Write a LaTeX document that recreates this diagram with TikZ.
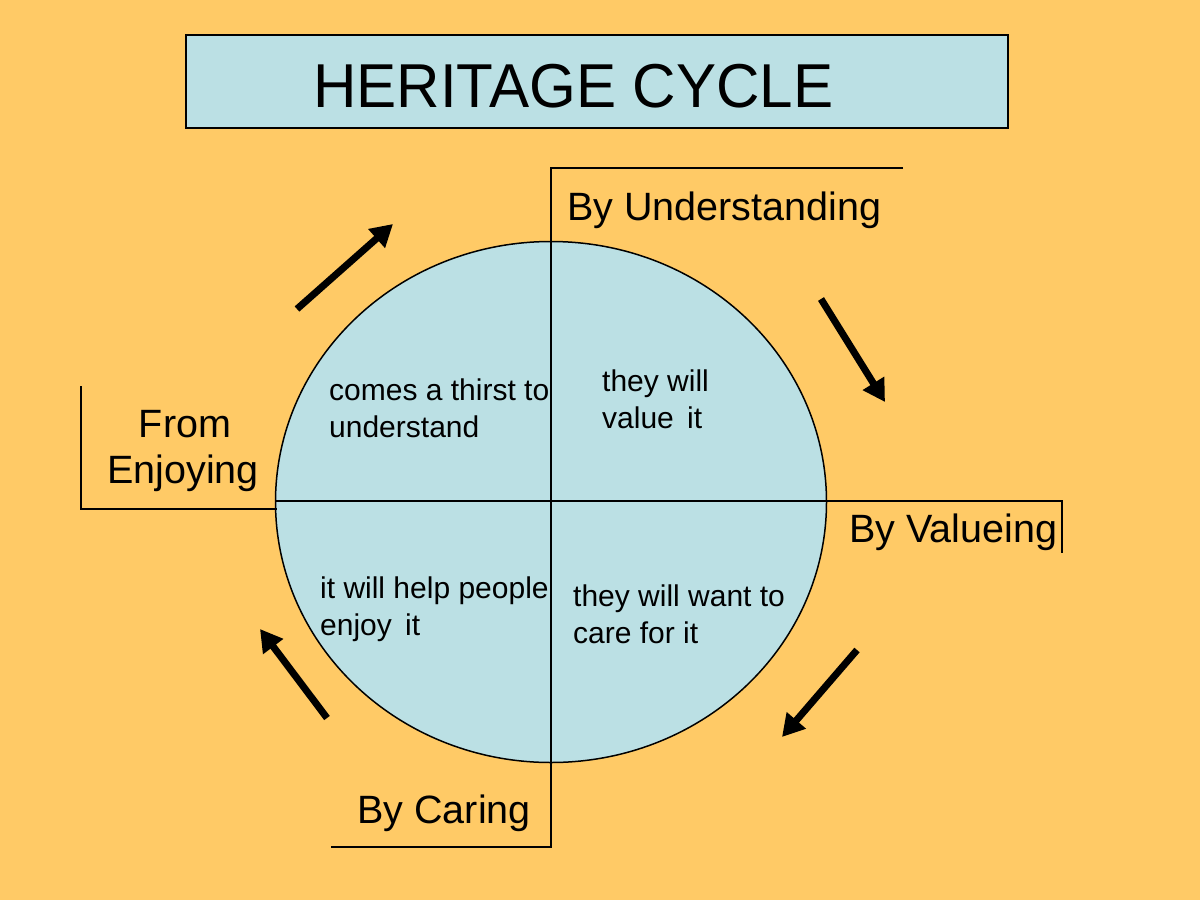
\documentclass[tikz,border=0pt]{standalone}
\usepackage{fontspec}
\setmainfont{Liberation Sans}
\usetikzlibrary{arrows.meta,shapes.geometric}
\definecolor{bgorange}{RGB}{255,202,102}
\definecolor{paleblue}{RGB}{187,224,228}
\tikzset{
  bracket/.style={draw=black, line width=2pt},
  bigarrow/.style={draw=black, line width=7pt, -{Triangle[length=22pt,width=24pt]}},
  lbl/.style={font=\fontsize{39.5}{46}\selectfont, inner sep=0pt, align=center},
  inner/.style={font=\fontsize{30}{36.5}\selectfont, inner sep=0pt, align=left},
}
\begin{document}
\begin{tikzpicture}[x=1pt,y=-1pt]
\fill[bgorange] (0,0) rectangle (1200,900);
\useasboundingbox (0,0) rectangle (1200,900);
% title
\node[draw=black, line width=2pt, fill=paleblue, minimum width=822pt, minimum height=93pt, inner sep=0pt] (title) at (597,81.5) {};
\node[font=\fontsize{62}{62}\selectfont, inner sep=0pt, anchor=base west] (titletext) at (313,107) {\scalebox{0.97}[1]{HERITAGE CYCLE}};
% circle
\node[draw=black, line width=1.5pt, fill=paleblue, ellipse, minimum width=551pt, minimum height=521pt, inner sep=0pt] (circ) at (551,502) {};
% coordinates
\coordinate (topR) at (903,168);
\coordinate (topL) at (551,168);
\coordinate (botL) at (331,847);
\coordinate (botR) at (551,847);
\coordinate (rightA) at (276,501);
\coordinate (rightB) at (1062,501);
\coordinate (rightC) at (1062,553);
\coordinate (leftA) at (81,386);
\coordinate (leftB) at (81,509);
\coordinate (leftC) at (277,509);
\draw[bracket] (topR) -- (topL) -- (botR) -- (botL);
\draw[bracket] (rightA) -- (rightB) -- (rightC);
\draw[bracket] (leftA) -- (leftB) -- (leftC);
% outer labels
\node[lbl, anchor=base west] (under) at (567,220) {By Understanding};
\node[lbl, anchor=base] (from) at (185,437) {From};
\node[lbl, anchor=base] (enjoy) at (183,483) {Enjoying};
\node[lbl, anchor=base west] (value) at (849,542) {By Valueing};
\node[lbl, anchor=base east] (caring) at (531,823) {By Caring};
% inner texts
\node[inner, anchor=north west] (q1) at (329,379) {comes a thirst to\\understand};
\node[inner, anchor=north west] (q2) at (602,370) {they will\\value\, it};
\node[inner, anchor=north west] (q3) at (320,577) {it will help people\\enjoy\, it};
\node[inner, anchor=north west] (q4) at (573,585) {they will want to\\care for it};
% arrows
\coordinate (a1s) at (297,309); \coordinate (a1e) at (393,224);
\coordinate (a2s) at (821,299); \coordinate (a2e) at (885,402);
\coordinate (a3s) at (857,650); \coordinate (a3e) at (782,737);
\coordinate (a4s) at (327,718); \coordinate (a4e) at (260,629);
\draw[bigarrow] (a1s) -- (a1e);
\draw[bigarrow] (a2s) -- (a2e);
\draw[bigarrow] (a3s) -- (a3e);
\draw[bigarrow] (a4s) -- (a4e);
\end{tikzpicture}
\end{document}
